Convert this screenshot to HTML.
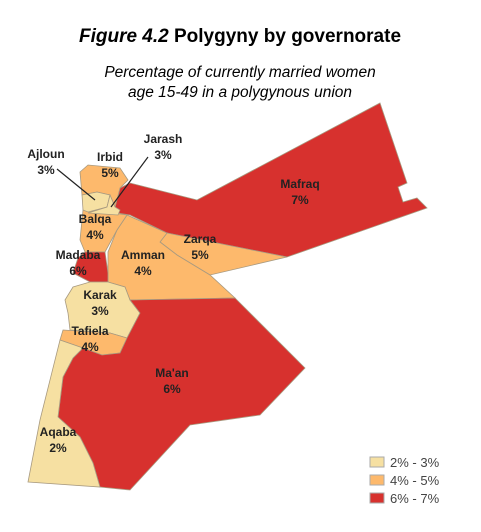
<!DOCTYPE html>
<html><head><meta charset="utf-8"><style>
body{margin:0;background:#fff;width:481px;height:527px;overflow:hidden;font-family:"Liberation Sans",Arial,sans-serif}
svg text{font-family:"Liberation Sans",Arial,sans-serif}
</style></head><body>
<svg id="map" width="481" height="527" viewBox="0 0 481 527">
<text x="240" y="42" text-anchor="middle" font-size="19" font-weight="bold"><tspan font-style="italic">Figure 4.2</tspan>  Polygyny by governorate</text>
<text x="240" y="77" text-anchor="middle" font-size="15.5" font-style="italic">Percentage of currently married women</text>
<text x="240" y="97" text-anchor="middle" font-size="15.5" font-style="italic">age 15-49 in a polygynous union</text>
<g id="regions"></g>
<g id="labels"></g>
<line x1="57" y1="169" x2="95" y2="200" stroke="#222" stroke-width="1.2"/>
<line x1="148" y1="157" x2="111" y2="207" stroke="#222" stroke-width="1.2"/>
<g>
<rect x="370" y="457" width="14" height="10" fill="#f6e0a2" stroke="#aaa"/>
<text x="390" y="467" font-size="13" fill="#444">2% - 3%</text>
<rect x="370" y="475" width="14" height="10" fill="#fdb96c" stroke="#aaa"/>
<text x="390" y="485" font-size="13" fill="#444">4% - 5%</text>
<rect x="370" y="493" width="14" height="10" fill="#d7312e" stroke="#aaa"/>
<text x="390" y="503" font-size="13" fill="#444">6% - 7%</text>
</g>
</svg>
<script>
const governorates = ["Mafraq","Zarqa","Amman","Balqa","Madaba","Karak","Tafiela","Ma'an","Aqaba","Irbid","Ajloun","Jarash"];
const values = [7,5,4,4,6,3,4,6,2,5,3,3];
const shapes = {
"Mafraq":"115,207 120,188 130,183 197,200 380,103 407,183 398,187 403,202 417,198 427,208 287,257 167,233 130,215 117,213",
"Zarqa":"167,233 287,257 210,275 177,255 160,242",
"Amman":"127,215 167,233 160,242 177,255 210,275 235,298 130,300 125,287 108,282 108,252 117,230",
"Balqa":"83,210 113,213 127,215 117,230 105,252 85,252 80,240",
"Madaba":"85,252 105,252 108,273 108,282 90,282 73,273 78,258",
"Karak":"90,282 108,282 125,287 130,300 140,313 127,338 110,333 70,330 68,313 65,300 73,287",
"Tafiela":"63,330 110,333 127,338 120,353 102,355 83,348 60,340",
"Ma'an":"130,300 235,298 305,368 260,415 190,425 130,490 100,487 93,463 80,437 58,417 63,377 73,358 83,348 102,355 120,353 127,338 140,313",
"Aqaba":"60,340 83,348 73,358 63,377 58,417 80,437 93,463 100,487 28,482 40,420",
"Irbid":"80,172 88,165 120,168 128,180 120,188 115,207 110,195 97,192 82,195",
"Ajloun":"82,195 97,192 110,195 107,207 88,212 83,210",
"Jarash":"110,195 115,207 120,210 118,215 88,213 107,207"
};
const labelPos = {
"Mafraq":[300,188],"Zarqa":[200,243],"Amman":[143,259],"Balqa":[95,223],"Madaba":[78,259],
"Karak":[100,299],"Tafiela":[90,335],"Ma'an":[172,377],"Aqaba":[58,436],"Irbid":[110,161],
"Ajloun":[46,158],"Jarash":[163,143]
};
function colorFor(v){return v<=3?"#f6e0a2":(v<=5?"#fdb96c":"#d7312e");}
const NS="http://www.w3.org/2000/svg";
const rg=document.getElementById("regions"), lg=document.getElementById("labels");
governorates.forEach((g,i)=>{
  const p=document.createElementNS(NS,"polygon");
  p.setAttribute("points",shapes[g]);
  p.setAttribute("fill",colorFor(values[i]));
  p.setAttribute("stroke","#a89a80");
  p.setAttribute("stroke-width","0.8");
  
  
  rg.appendChild(p);
  const [x,y]=labelPos[g];
  [g, values[i]+"%"].forEach((t,k)=>{
    const tx=document.createElementNS(NS,"text");
    tx.setAttribute("x",x);tx.setAttribute("y",y+k*16);
    tx.setAttribute("text-anchor","middle");
    tx.setAttribute("font-size","12");tx.setAttribute("font-weight","bold");
    tx.setAttribute("fill","#222");
    tx.textContent=t;
    
    
    lg.appendChild(tx);
  });
});
</script>
</body></html>
